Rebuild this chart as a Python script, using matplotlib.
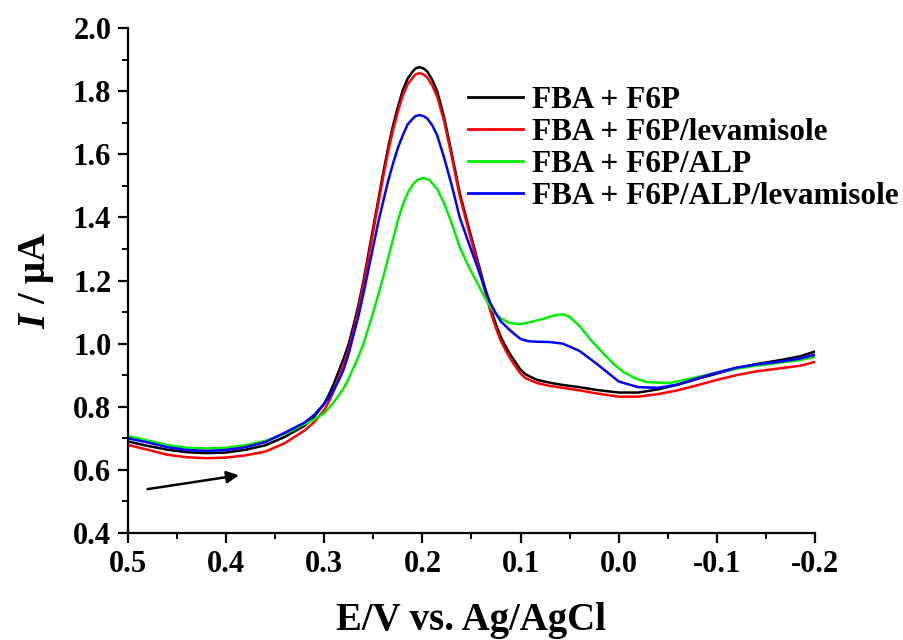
import matplotlib
matplotlib.use("Agg")
import matplotlib.pyplot as plt
from matplotlib.ticker import MultipleLocator, FormatStrFormatter

plt.rcParams['font.family'] = ['Liberation Serif', 'DejaVu Serif']
plt.rcParams['font.weight'] = 'bold'
plt.rcParams['mathtext.fontset'] = 'custom'
plt.rcParams['mathtext.bfit'] = 'Liberation Serif:bold:italic'

# ---------------- data ----------------
E_black = [0.50, 0.48, 0.46, 0.44, 0.42, 0.40, 0.38, 0.36, 0.34, 0.32,
           0.31, 0.30, 0.295, 0.29, 0.285, 0.28, 0.275, 0.27, 0.265, 0.26,
           0.255, 0.25, 0.245, 0.24, 0.235, 0.23, 0.225, 0.22, 0.215, 0.21,
           0.207, 0.203, 0.199, 0.195, 0.19, 0.185, 0.178, 0.17, 0.162, 0.153,
           0.144, 0.137, 0.131, 0.125, 0.12, 0.115, 0.111, 0.105, 0.10, 0.095,
           0.09, 0.083, 0.07, 0.057, 0.04, 0.022, 0.0, -0.02, -0.04, -0.06,
           -0.08, -0.10, -0.12, -0.14, -0.165, -0.185, -0.20]
I_black = [0.690, 0.676, 0.664, 0.656, 0.653, 0.655, 0.664, 0.678, 0.705, 0.740,
           0.770, 0.810, 0.840, 0.875, 0.915, 0.955, 1.000, 1.060, 1.125, 1.200,
           1.285, 1.370, 1.455, 1.540, 1.620, 1.690, 1.750, 1.803, 1.840, 1.862,
           1.872, 1.876, 1.872, 1.862, 1.836, 1.800, 1.718, 1.600, 1.477, 1.370,
           1.265, 1.185, 1.116, 1.060, 1.020, 0.990, 0.968, 0.940, 0.917, 0.903,
           0.895, 0.885, 0.876, 0.869, 0.862, 0.853, 0.845, 0.845, 0.855, 0.870,
           0.888, 0.905, 0.922, 0.935, 0.948, 0.960, 0.975]

E_red = E_black
I_red = [0.679, 0.664, 0.648, 0.640, 0.637, 0.639, 0.646, 0.658, 0.685, 0.725,
         0.752, 0.790, 0.818, 0.852, 0.895, 0.937, 0.982, 1.045, 1.110, 1.188,
         1.272, 1.358, 1.443, 1.528, 1.607, 1.676, 1.735, 1.786, 1.822, 1.843,
         1.853, 1.857, 1.853, 1.843, 1.818, 1.783, 1.706, 1.590, 1.468, 1.360,
         1.255, 1.175, 1.105, 1.048, 1.008, 0.978, 0.955, 0.927, 0.905, 0.891,
         0.884, 0.875, 0.866, 0.860, 0.852, 0.842, 0.832, 0.832, 0.840, 0.852,
         0.868, 0.885, 0.900, 0.912, 0.922, 0.930, 0.942]

E_blue = E_black
I_blue = [0.700, 0.687, 0.672, 0.663, 0.660, 0.663, 0.672, 0.688, 0.718, 0.750,
          0.775, 0.810, 0.830, 0.855, 0.885, 0.920, 0.970, 1.030, 1.090, 1.160,
          1.235, 1.310, 1.385, 1.450, 1.515, 1.570, 1.620, 1.660, 1.695, 1.712,
          1.721, 1.724, 1.721, 1.713, 1.692, 1.660, 1.590, 1.500, 1.400, 1.320,
          1.243, 1.180, 1.130, 1.095, 1.070, 1.055, 1.043, 1.027, 1.015, 1.010,
          1.007, 1.006, 1.005, 1.000, 0.977, 0.935, 0.880, 0.862, 0.860, 0.870,
          0.890, 0.908, 0.924, 0.934, 0.943, 0.953, 0.965]

E_green = [0.50, 0.48, 0.46, 0.44, 0.42, 0.40, 0.38, 0.36, 0.34, 0.32,
           0.31, 0.30, 0.29, 0.28, 0.275, 0.27, 0.265, 0.26, 0.255, 0.25,
           0.245, 0.24, 0.235, 0.23, 0.225, 0.22, 0.215, 0.21, 0.205, 0.199,
           0.193, 0.185, 0.178, 0.17, 0.162, 0.153, 0.144, 0.137, 0.131, 0.125,
           0.12, 0.111, 0.10, 0.09, 0.075, 0.065, 0.057, 0.05, 0.039, 0.028,
           0.016, 0.005, -0.005, -0.017, -0.029, -0.052, -0.08, -0.10, -0.114, -0.14,
           -0.165, -0.185, -0.20]
I_green = [0.707, 0.693, 0.679, 0.670, 0.668, 0.670, 0.678, 0.692, 0.715, 0.745,
           0.760, 0.780, 0.815, 0.860, 0.890, 0.925, 0.960, 1.000, 1.050, 1.100,
           1.155, 1.210, 1.270, 1.330, 1.390, 1.440, 1.478, 1.503, 1.519, 1.525,
           1.519, 1.490, 1.446, 1.380, 1.306, 1.245, 1.192, 1.150, 1.116, 1.093,
           1.080, 1.065, 1.062, 1.068, 1.080, 1.090, 1.093, 1.085, 1.053, 1.010,
           0.970, 0.935, 0.910, 0.890, 0.878, 0.875, 0.894, 0.908, 0.918, 0.930,
           0.940, 0.948, 0.958]

labels = ['FBA + F6P', 'FBA + F6P/levamisole', 'FBA + F6P/ALP', 'FBA + F6P/ALP/levamisole']
colors = ['#000000', '#ff0000', '#00ee00', '#0000ff']

arrow_start = (0.48, 0.539)
arrow_end = (0.387, 0.583)

# ---------------- figure ----------------
fig = plt.figure(figsize=(9.04, 6.40), dpi=100)
ax = fig.add_axes([128/904, 1 - 533/640, (815 - 128)/904, (533 - 28)/640])

series = [(E_black, I_black), (E_red, I_red), (E_green, I_green), (E_blue, I_blue)]
for (x, y), lab, c in zip(series, labels, colors):
    ax.plot(x, y, color=c, lw=1.8, label=lab, solid_joinstyle='round')

ax.annotate('', xy=arrow_end, xytext=arrow_start,
            arrowprops=dict(arrowstyle='-|>', color='black', lw=1.8,
                            mutation_scale=18, shrinkA=0, shrinkB=0))

ax.set_xlim(0.5, -0.2)
ax.set_ylim(0.4, 2.0)
ax.xaxis.set_major_locator(MultipleLocator(0.1))
ax.xaxis.set_minor_locator(MultipleLocator(0.05))
ax.yaxis.set_major_locator(MultipleLocator(0.2))
ax.yaxis.set_minor_locator(MultipleLocator(0.1))
ax.xaxis.set_major_formatter(FormatStrFormatter('%.1f'))
ax.yaxis.set_major_formatter(FormatStrFormatter('%.1f'))

for s in ['top', 'right']:
    ax.spines[s].set_visible(False)
for s in ['left', 'bottom']:
    ax.spines[s].set_linewidth(1.6)

ax.tick_params(which='major', direction='out', length=7, width=1.6, labelsize=22, pad=5)
ax.tick_params(which='minor', direction='out', length=4, width=1.4)
for lbl in ax.get_xticklabels() + ax.get_yticklabels():
    lbl.set_fontweight('bold')

ax.set_xlabel('E/V vs. Ag/AgCl', fontsize=28, fontweight='bold', labelpad=17)
ax.set_ylabel(r'$\mathbfit{I}$ / μA', fontsize=28, fontweight='bold', labelpad=12)

leg = ax.legend(loc='upper left', bbox_to_anchor=(468/904, 1 - 86/640),
                bbox_transform=fig.transFigure, frameon=False, borderpad=0,
                borderaxespad=0, handlelength=1.75, handletextpad=0.3,
                labelspacing=0.1, prop={'family': 'Liberation Serif', 'weight': 'bold', 'size': 22.5})
for line in leg.get_lines():
    line.set_linewidth(2)

fig.savefig('out.png', dpi=100)
